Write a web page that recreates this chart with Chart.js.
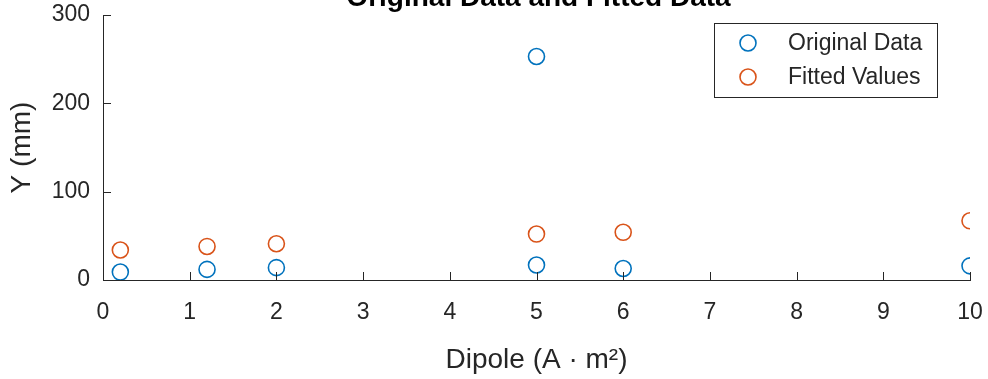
<!DOCTYPE html>
<html>
<head>
<meta charset="utf-8">
<script src="https://cdn.jsdelivr.net/npm/chart.js@4/dist/chart.umd.min.js"></script>
<style>
  html, body { margin: 0; padding: 0; background: #fff; }
  #wrap { width: 988px; height: 379px; }
</style>
</head>
<body>
<div id="wrap"><canvas id="c" width="988" height="379"></canvas></div>
<script>
// data
var originalX = [0.2, 1.2, 2, 5, 5, 6, 10];
var originalY = [9, 12, 14, 253, 17, 13, 16];
var fittedX = [0.2, 1.2, 2, 5, 6, 10];
var fittedY = [34, 38, 41, 52, 54, 67];
var xTicks = [0, 1, 2, 3, 4, 5, 6, 7, 8, 9, 10];
var yTicks = [0, 100, 200, 300];

var FONT = "'Liberation Sans', Arial, Helvetica, sans-serif";
var AXIS = "#262626";
var BLUE = "#0072BD";
var ORANGE = "#D95319";

function pts(xs, ys) {
  return xs.map(function (x, i) { return { x: x, y: ys[i] }; });
}

// inward tick marks, MATLAB style
var inTicks = {
  id: "inTicks",
  afterDraw: function (chart) {
    var ctx = chart.ctx, a = chart.chartArea;
    var xs = chart.scales.x, ys = chart.scales.y;
    ctx.save();
    ctx.strokeStyle = AXIS;
    ctx.lineWidth = 1;
    ctx.beginPath();
    xTicks.forEach(function (v) {
      var px = Math.round(xs.getPixelForValue(v)) + 0.5;
      ctx.moveTo(px, a.bottom);
      ctx.lineTo(px, a.bottom - 8);
    });
    yTicks.forEach(function (v) {
      var py = Math.round(ys.getPixelForValue(v)) + 0.5;
      ctx.moveTo(a.left, py);
      ctx.lineTo(a.left + 8, py);
    });
    ctx.stroke();
    ctx.restore();
  },
};

// title sits half off the top edge
var topTitle = {
  id: "topTitle",
  afterDraw: function (chart) {
    var ctx = chart.ctx, a = chart.chartArea;
    ctx.save();
    ctx.font = "bold 28px " + FONT;
    ctx.fillStyle = "#000";
    ctx.textAlign = "center";
    ctx.textBaseline = "alphabetic";
    ctx.fillText("Original Data and Fitted Data", (a.left + a.right) / 2 + 2, 6);
    ctx.restore();
  },
};

// boxed legend in the upper right
var boxLegend = {
  id: "boxLegend",
  afterDraw: function (chart) {
    var ctx = chart.ctx;
    var bx = 714.5, by = 23.5, bw = 223, bh = 74;
    ctx.save();
    ctx.fillStyle = "#fff";
    ctx.fillRect(bx, by, bw, bh);
    ctx.strokeStyle = AXIS;
    ctx.lineWidth = 1;
    ctx.strokeRect(bx, by, bw, bh);
    ctx.font = "23px " + FONT;
    ctx.textBaseline = "middle";
    ctx.textAlign = "left";
    chart.data.datasets.forEach(function (ds, i) {
      var cy = 43 + i * 34;
      ctx.beginPath();
      ctx.arc(748, cy, 8, 0, Math.PI * 2);
      ctx.strokeStyle = ds.borderColor;
      ctx.lineWidth = 1.6;
      ctx.stroke();
      ctx.fillStyle = AXIS;
      ctx.fillText(ds.label, 788, cy + 1);
    });
    ctx.restore();
  },
};

new Chart(document.getElementById("c").getContext("2d"), {
  type: "scatter",
  data: {
    datasets: [
      {
        label: "Original Data",
        data: pts(originalX, originalY),
        borderColor: BLUE,
        backgroundColor: "rgba(0,0,0,0)",
        pointRadius: 8,
        pointBorderWidth: 1.6,
        pointHoverRadius: 8,
      },
      {
        label: "Fitted Values",
        data: pts(fittedX, fittedY),
        borderColor: ORANGE,
        backgroundColor: "rgba(0,0,0,0)",
        pointRadius: 8,
        pointBorderWidth: 1.6,
        pointHoverRadius: 8,
      },
    ],
  },
  plugins: [inTicks, topTitle, boxLegend],
  options: {
    responsive: false,
    animation: false,
    events: [],
    layout: { padding: { top: 15, right: 18, bottom: 0, left: 0 } },
    plugins: {
      legend: { display: false },
      tooltip: { enabled: false },
    },
    scales: {
      x: {
        type: "linear",
        min: 0,
        max: 10,
        afterBuildTicks: function (s) {
          s.ticks = xTicks.map(function (v) { return { value: v }; });
        },
        afterFit: function (s) {
          s.height = 99;
          s.paddingLeft = 0;
          s.paddingRight = 0;
        },
        grid: { display: true, drawOnChartArea: false, drawTicks: false },
        border: { display: true, color: AXIS, width: 1 },
        ticks: {
          color: AXIS,
          font: { family: FONT, size: 23 },
          padding: 19,
          maxRotation: 0,
          autoSkip: false,
        },
        title: {
          display: true,
          text: "Dipole (A \u00b7 m\u00b2)",
          color: AXIS,
          font: { family: FONT, size: 28 },
          padding: { top: 0, bottom: 2 },
        },
      },
      y: {
        type: "linear",
        min: 0,
        max: 300,
        afterBuildTicks: function (s) {
          s.ticks = yTicks.map(function (v) { return { value: v }; });
        },
        afterFit: function (s) {
          s.width = 103;
          s.paddingTop = 0;
          s.paddingBottom = 0;
        },
        grid: { display: true, drawOnChartArea: false, drawTicks: false },
        border: { display: true, color: AXIS, width: 1 },
        ticks: {
          color: AXIS,
          font: { family: FONT, size: 23 },
          padding: 13,
        },
        title: {
          display: true,
          text: "Y (mm)",
          color: AXIS,
          font: { family: FONT, size: 28 },
          padding: { top: 5, bottom: 0 },
        },
      },
    },
  },
});
</script>
</body>
</html>
